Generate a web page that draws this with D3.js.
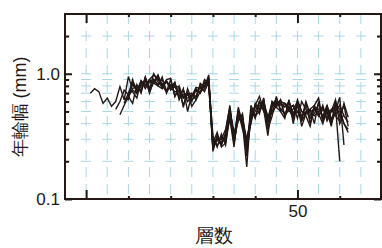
<!DOCTYPE html>
<html>
<head>
<meta charset="utf-8">
<script src="https://cdn.jsdelivr.net/npm/d3@7"></script>
<style>
  body { margin: 0; background: #fff; }
  text { font-family: "Liberation Sans", Arial, sans-serif; fill: #231815; }
</style>
</head>
<body>
<svg id="chart" width="382" height="248"></svg>
<script>
(function (d3) {
  'use strict';

  // tree-ring width series (mm), one array per core, first value at startLayer
  const seriesA = [0.70, 0.76, 0.72, 0.58, 0.64, 0.55, 0.60, 0.79, 0.62, 0.95, 0.74, 0.70, 0.84, 0.80, 0.90, 0.98, 0.90, 0.82, 0.86, 0.80, 0.78, 0.72, 0.64, 0.70, 0.66, 0.74, 0.72, 0.80, 0.84, 0.25, 0.32, 0.27, 0.33, 0.52, 0.28, 0.45, 0.40, 0.24, 0.42, 0.56, 0.48, 0.64, 0.36, 0.46, 0.66, 0.50, 0.44, 0.62, 0.40, 0.58, 0.38, 0.48, 0.52, 0.40, 0.60, 0.42, 0.50, 0.38, 0.58, 0.52, 0.40, 0.36];
  const seriesB = [0.47, 0.56, 0.66, 0.58, 0.82, 0.70, 0.94, 0.76, 0.86, 0.98, 0.80, 0.72, 0.90, 0.66, 0.74, 0.56, 0.70, 0.55, 0.62, 0.84, 0.78, 0.98, 0.24, 0.32, 0.27, 0.34, 0.56, 0.30, 0.54, 0.40, 0.18, 0.52, 0.44, 0.60, 0.50, 0.44, 0.60, 0.54, 0.62, 0.46, 0.60, 0.48, 0.56, 0.42, 0.58, 0.40, 0.54, 0.46, 0.56, 0.42, 0.50, 0.56, 0.20];
  const seriesC = [0.52, 0.60, 0.74, 0.68, 0.90, 0.70, 0.80, 0.88, 0.72, 0.86, 0.92, 0.82, 0.88, 0.76, 0.86, 0.62, 0.76, 0.50, 0.68, 0.66, 0.80, 0.72, 0.86, 0.30, 0.27, 0.29, 0.30, 0.44, 0.26, 0.52, 0.38, 0.30, 0.44, 0.56, 0.66, 0.52, 0.32, 0.60, 0.56, 0.60, 0.58, 0.52, 0.44, 0.62, 0.50, 0.46, 0.38, 0.56, 0.64, 0.42, 0.56, 0.40, 0.50, 0.65, 0.27];
  const seriesD = [0.64, 0.62, 0.86, 0.76, 0.74, 0.94, 0.70, 0.90, 0.80, 0.94, 0.70, 0.82, 0.80, 0.66, 0.74, 0.60, 0.66, 0.74, 0.70, 0.90, 0.84, 0.28, 0.34, 0.26, 0.28, 0.50, 0.34, 0.42, 0.48, 0.24, 0.56, 0.46, 0.50, 0.58, 0.46, 0.48, 0.56, 0.62, 0.46, 0.52, 0.56, 0.44, 0.60, 0.52, 0.44, 0.48, 0.58, 0.44, 0.54, 0.40, 0.60, 0.46, 0.56, 0.38];
  const seriesE = [0.70, 0.82, 0.74, 0.86, 0.80, 0.90, 0.84, 0.96, 0.78, 0.88, 0.74, 0.80, 0.78, 0.54, 0.76, 0.62, 0.66, 0.82, 0.80, 0.88, 0.32, 0.26, 0.33, 0.27, 0.46, 0.28, 0.48, 0.44, 0.30, 0.40, 0.58, 0.52, 0.62, 0.42, 0.58, 0.54, 0.50, 0.58, 0.54, 0.46, 0.50, 0.44, 0.60, 0.48, 0.46, 0.50, 0.54, 0.44, 0.52, 0.46, 0.42, 0.58, 0.45];
  const seriesF = [0.58, 0.70, 0.72, 0.64, 0.88, 0.82, 0.86, 0.84, 0.80, 0.76, 0.90, 0.92, 0.66, 0.80, 0.64, 0.68, 0.70, 0.62, 0.72, 0.76, 0.94, 0.26, 0.30, 0.30, 0.36, 0.54, 0.30, 0.46, 0.46, 0.22, 0.50, 0.54, 0.52, 0.62, 0.36, 0.54, 0.64, 0.52, 0.48, 0.54, 0.56, 0.50, 0.42, 0.48, 0.52, 0.56, 0.48, 0.40, 0.52, 0.50, 0.62, 0.40, 0.48];
  const seriesG = [0.84, 0.72, 0.88, 0.76, 0.86, 0.90, 0.82, 0.90, 0.74, 0.78, 0.84, 0.64, 0.68, 0.70, 0.60, 0.76, 0.70, 0.86, 0.80, 0.27, 0.29, 0.31, 0.29, 0.52, 0.32, 0.50, 0.36, 0.28, 0.48, 0.46, 0.56, 0.56, 0.44, 0.50, 0.60, 0.56, 0.58, 0.50, 0.52, 0.60, 0.50, 0.48, 0.50, 0.52, 0.46, 0.52, 0.48, 0.42, 0.50, 0.56, 0.46, 0.41];
  const seriesH = [0.66, 0.76, 0.80, 0.74, 0.92, 0.76, 1.00, 0.86, 0.78, 0.86, 0.78, 0.72, 0.72, 0.66, 0.64, 0.66, 0.78, 0.76, 0.84, 0.90, 0.25, 0.31, 0.28, 0.32, 0.48, 0.29, 0.44, 0.42, 0.26, 0.46, 0.50, 0.60, 0.54, 0.40, 0.56, 0.58, 0.58, 0.54, 0.60, 0.48, 0.56, 0.46, 0.50, 0.46, 0.54, 0.52, 0.46, 0.56, 0.44, 0.48, 0.50, 0.40, 0.34];
  const allSeries = [seriesA, seriesB, seriesC, seriesD, seriesE, seriesF, seriesG, seriesH];
  const startLayer = [1, 8, 7, 9, 10, 9, 11, 10];

  const xMajor = [0, 50];
  const xMinor = [10, 20, 30, 40, 60];
  const xGrid = [0, 5, 10, 15, 20, 25, 30, 35, 40, 45, 50, 55, 60, 65];
  const yMajor = [0.1, 1];
  const yMinor = [0.2, 0.3, 0.4, 0.5, 0.6, 0.7, 0.8, 0.9, 2];
  const yGrid = [0.2, 0.3, 0.4, 0.5, 0.6, 0.7, 0.8, 0.9, 1, 2];

  const INK = '#231815';
  const GRID = '#a9d7e6';
  const left = 65, right = 381, top = 14, bottom = 199;

  const svg = d3.select('#chart');
  const x = d3.scaleLinear().domain([-5, 70]).range([left, 382]);
  const y = d3.scaleLog().domain([0.1, 3]).range([bottom, top]);

  // grid
  const step = x(5) - x(0);
  svg.append('g').selectAll('line')
    .data(xGrid).enter().append('line')
    .attr('x1', d => x(d)).attr('x2', d => x(d))
    .attr('y1', top).attr('y2', bottom)
    .attr('stroke', GRID).attr('stroke-width', 1)
    .attr('stroke-dasharray', '10,7');
  svg.append('g').selectAll('line')
    .data(yGrid).enter().append('line')
    .attr('x1', left).attr('x2', right)
    .attr('y1', d => y(d)).attr('y2', d => y(d))
    .attr('stroke', GRID).attr('stroke-width', 1)
    .attr('stroke-dasharray', `10,${step - 10}`)
    .attr('stroke-dashoffset', 5 - (x(0) - left - step));

  // series
  const line = d3.line()
    .x(d => x(d[0]))
    .y(d => y(d[1]));
  svg.append('g').selectAll('path')
    .data(allSeries.map((s, k) => s.map((v, j) => [startLayer[k] + j, v])))
    .enter().append('path')
    .attr('d', line)
    .attr('fill', 'none')
    .attr('stroke', INK)
    .attr('stroke-width', 1.4)
    .attr('stroke-linejoin', 'miter');

  // axes (ticks pointing inward)
  const fmtX = d => d === 50 ? '50' : '';
  const fmtY = d => d3.format('.1f')(d);
  const drawAxis = (axis, tx, ty) => {
    const g = svg.append('g').attr('transform', `translate(${tx},${ty})`).call(axis);
    g.select('.domain').remove();
    g.selectAll('line').attr('stroke', INK).attr('stroke-width', 2);
    g.selectAll('text').attr('font-size', 17).attr('fill', INK)
      .attr('font-family', '"Liberation Sans", Arial, sans-serif');
    return g;
  };
  drawAxis(d3.axisBottom(x).tickValues(xMajor).tickSize(-9).tickPadding(6).tickFormat(fmtX), 0, bottom);
  drawAxis(d3.axisBottom(x).tickValues(xMinor).tickSize(-3).tickFormat(''), 0, bottom);
  drawAxis(d3.axisTop(x).tickValues(xMajor).tickSize(-9).tickFormat(''), 0, top);
  drawAxis(d3.axisTop(x).tickValues(xMinor).tickSize(-3).tickFormat(''), 0, top);
  drawAxis(d3.axisLeft(y).tickValues(yMajor).tickSize(-7).tickPadding(5).tickFormat(fmtY), left, 0);
  drawAxis(d3.axisLeft(y).tickValues(yMinor).tickSize(-4).tickFormat(''), left, 0);
  drawAxis(d3.axisRight(y).tickValues(yMajor).tickSize(-7).tickFormat(''), right, 0);
  drawAxis(d3.axisRight(y).tickValues(yMinor).tickSize(-4).tickFormat(''), right, 0);

  // frame
  svg.append('rect')
    .attr('x', left).attr('y', top)
    .attr('width', right - left).attr('height', bottom - top)
    .attr('fill', 'none').attr('stroke', INK).attr('stroke-width', 2);

  // axis titles
  svg.append('text')
    .attr('x', 214).attr('y', 242)
    .attr('text-anchor', 'middle')
    .attr('font-size', 19)
    .attr('font-family', '"Noto Sans CJK JP", sans-serif')
    .text('層数');
  svg.append('text')
    .attr('transform', 'translate(26,107) rotate(-90)')
    .attr('text-anchor', 'middle')
    .attr('font-size', 18)
    .attr('font-family', '"Noto Sans CJK JP", sans-serif')
    .text('年輪幅 (mm)');

}(d3));
</script>
</body>
</html>
